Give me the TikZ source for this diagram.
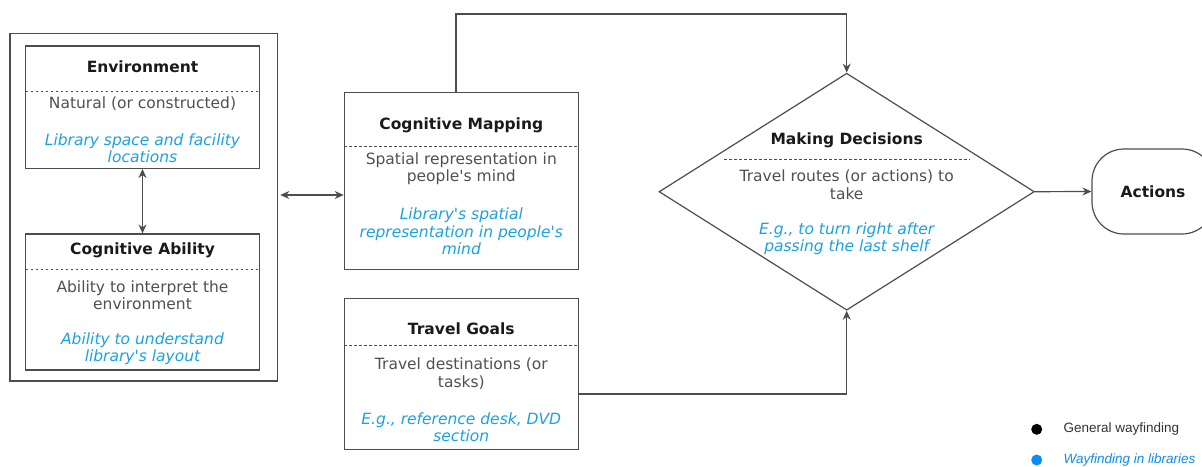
\documentclass[tikz,border=0pt]{standalone}
\usepackage{fontspec}
\setmainfont{DejaVu Sans}
\newfontfamily\legendfont{Liberation Sans}
\usetikzlibrary{shapes.geometric,arrows.meta}

\definecolor{linegray}{HTML}{4D4D4D}
\definecolor{titlecol}{HTML}{1A1A1A}
\definecolor{descgray}{HTML}{505050}
\definecolor{libblue}{HTML}{1BA1E2}
\definecolor{dotblue}{HTML}{0C8CF0}

\newcommand\boxfont{\fontsize{15.5}{17.5}\selectfont}
\newcommand\apos{\textquotesingle}

\tikzset{
  box/.style={draw=linegray, line width=1.2pt, inner sep=0pt},
  ttl/.style={font=\boxfont\bfseries, text=titlecol},
  desc/.style={font=\boxfont, text=descgray, align=center},
  lib/.style={font=\boxfont\itshape, text=libblue, align=center},
  sep/.style={draw=linegray, line width=0.8pt, dashed, dash pattern=on 2.5pt off 2.5pt},
  link/.style={draw=linegray, line width=1.2pt},
  dot/.style={circle, fill, inner sep=0pt, minimum size=11pt},
  legend/.style={font=\legendfont\fontsize{13.5}{15}\selectfont, anchor=west, inner sep=0pt},
}

\begin{document}
\begin{tikzpicture}[x=1pt,y=-1pt,>={Stealth[length=9pt,width=8pt]}]
\useasboundingbox (0,0) rectangle (1202,466);

% left group: environment and cognitive ability
\node[box, minimum width=267.7, minimum height=347.7] (grp) at (143.8,207.2) {};

\node[box, minimum width=233.6, minimum height=122.3] (env) at (142.5,107.2) {};
\node[ttl] (envt) at (142.5,66.7) {Environment};
\draw[sep] (25.7,91) -- (259.3,91);
\node[desc] (envd) at (142.5,103.3) {Natural (or constructed)};
\node[lib] (envl) at (142.5,148) {Library space and facility\\locations};

\node[box, minimum width=233.6, minimum height=136] (cab) at (142.5,302) {};
\node[ttl] (cabt) at (142.5,250) {Cognitive Ability};
\draw[sep] (25.7,269.3) -- (259.3,269.3);
\node[desc] (cabd) at (142.5,295.3) {Ability to interpret the\\environment};
\node[lib] (cabl) at (142.5,348.8) {Ability to understand\\library\apos s layout};

% cognitive mapping
\node[box, minimum width=234, minimum height=177] (map) at (461.3,180.8) {};
\node[ttl] (mapt) at (461.3,125) {Cognitive Mapping};
\draw[sep] (344.3,146.7) -- (578.3,146.7);
\node[desc] (mapd) at (461.3,168.8) {Spatial representation in\\people\apos s mind};
\node[lib] (mapl) at (461.3,231.3) {Library\apos s spatial\\representation in people\apos s\\mind};

% travel goals
\node[box, minimum width=234, minimum height=151] (goal) at (461.3,373.8) {};
\node[ttl] (goalt) at (461.3,329) {Travel Goals};
\draw[sep] (344.3,345) -- (578.3,345);
\node[desc] (goald) at (461.3,373.8) {Travel destinations (or\\tasks)};
\node[lib] (goall) at (461.3,427) {E.g., reference desk, DVD\\section};

% making decisions
\node[box, diamond, minimum width=375.3, minimum height=237] (dec) at (846.7,191.7) {};
\node[ttl] (dect) at (846.7,140) {Making Decisions};
\draw[sep] (724,159) -- (970,159);
\node[desc] (decd) at (846.7,184.5) {Travel routes (or actions) to\\take};
\node[lib] (decl) at (846.7,238.7) {E.g., to turn right after\\passing the last shelf};

% actions
\node[box, ttl, rounded corners=32pt, minimum width=122, minimum height=85] (act) at (1153,191.5) {Actions};

% connectors
\coordinate (ylink) at (0,195);
\coordinate (ytop) at (456,14);
\coordinate (ygoal) at (0,394);
\draw[link, <->] (env.south) -- (cab.north);
\draw[link, <->, shorten <=2pt] (grp.east |- ylink) -- (map.west |- ylink);
\draw[link, ->] (ytop |- map.north) -- (ytop) -| (dec.north);
\draw[link, ->] (goal.east |- ygoal) -| (dec.south);
\draw[link, ->] (dec.east) -- (act.west);

% legend
\node[dot, fill=black] (gdot) at (1036.7,429.3) {};
\node[legend, text=black!80] (gtxt) at (1063.3,429.3) {General wayfinding};
\node[dot, fill=dotblue] (ldot) at (1036.7,460) {};
\node[legend, text=dotblue, font=\legendfont\itshape\fontsize{13.5}{15}\selectfont] (ltxt) at (1063.3,460) {Wayfinding in libraries};
\end{tikzpicture}
\end{document}
